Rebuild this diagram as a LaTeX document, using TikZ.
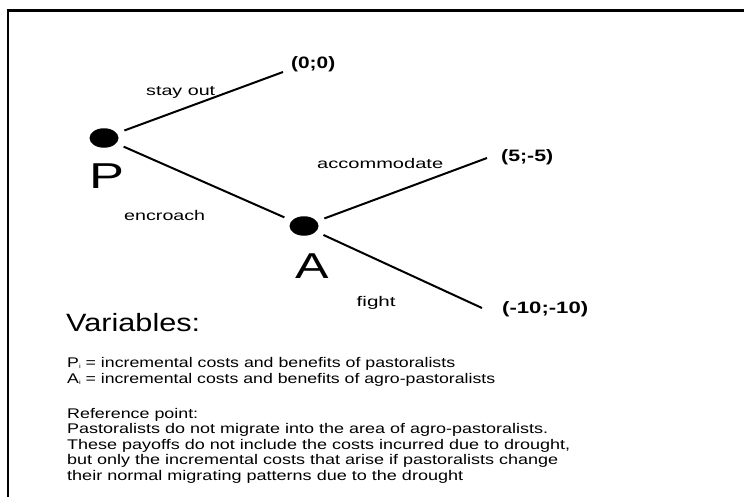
\documentclass[tikz,border=0pt]{standalone}
\usepackage{fontspec}
\usepackage{graphicx}
\setmainfont{Liberation Sans}
\usetikzlibrary{shapes.geometric}
\newcommand\wfit[2]{\resizebox{#1pt}{\height}{#2}}
\newcommand\subi{\raisebox{-1.5pt}{\fontsize{6}{6}\selectfont i}}
\tikzset{
  dot/.style={ellipse, fill=black, inner sep=0pt, minimum width=29pt, minimum height=19.5pt, outer sep=8pt},
  branch/.style={line width=2pt},
  lbl/.style={inner sep=0pt, anchor=base west, font=\fontsize{14}{16}\selectfont},
  pay/.style={inner sep=0pt, anchor=base west, font=\fontsize{16.5}{18}\selectfont\bfseries},
  player/.style={inner sep=0pt, anchor=base west, font=\fontsize{36}{40}\selectfont},
  body/.style={inner sep=0pt, anchor=base west, font=\fontsize{14}{15.5}\selectfont},
}
\begin{document}
\begin{tikzpicture}[x=1pt,y=-1pt]
\useasboundingbox (0,0) rectangle (744,496);
% frame (top and left edges visible)
\draw[line width=3pt] (7,10.5) -- (760,10.5);
\draw[line width=2.7pt] (8,9) -- (8,510);
% decision nodes
\node[dot] (P) at (104,138) {};
\node[dot] (A) at (304,226) {};
\node[player] (Plbl) at (89,188) {\wfit{35}{P}};
\node[player] (Albl) at (295,278) {\wfit{33.5}{A}};
% free ends
\coordinate (e00) at (283,72);
\coordinate (e55) at (487,158);
\coordinate (e10) at (482,308);
% branches
\draw[branch] (P) -- (e00);
\draw[branch] (P) -- (A);
\draw[branch] (A) -- (e55);
\draw[branch] (A) -- (e10);
% action labels
\node[lbl] (stay) at (146,95) {\wfit{69}{stay out}};
\node[lbl] (enc) at (124,220) {\wfit{81}{encroach}};
\node[lbl] (acc) at (317,168.3) {\wfit{126}{accommodate}};
\node[lbl] (fig) at (356.5,306) {\wfit{39}{fight}};
% payoffs
\node[pay] (p00) at (291,68.3) {\wfit{44}{(0;0)}};
\node[pay] (p55) at (501,161.7) {\wfit{52}{(5;-5)}};
\node[pay] (p10) at (502,313.3) {\wfit{86}{(-10;-10)}};
% legend
\node[inner sep=0pt, anchor=base west, font=\fontsize{25}{28}\selectfont] (vt) at (66,331) {\wfit{134}{Variables:}};
\node[body] (d1) at (67,367.3) {\wfit{388}{P\subi{} = incremental costs and benefits of pastoralists}};
\node[body] (d2) at (67,383) {\wfit{428}{A\subi{} = incremental costs and benefits of agro-pastoralists}};
\node[body] (r0) at (67,418.3) {\wfit{131}{Reference point:}};
\node[body] (r1) at (67,433.8) {\wfit{481}{Pastoralists do not migrate into the area of agro-pastoralists.}};
\node[body] (r2) at (67,449.3) {\wfit{503}{These payoffs do not include the costs incurred due to drought,}};
\node[body] (r3) at (67,464.8) {\wfit{491}{but only the incremental costs that arise if pastoralists change}};
\node[body] (r4) at (67,480.3) {\wfit{396}{their normal migrating patterns due to the drought}};
\end{tikzpicture}
\end{document}
